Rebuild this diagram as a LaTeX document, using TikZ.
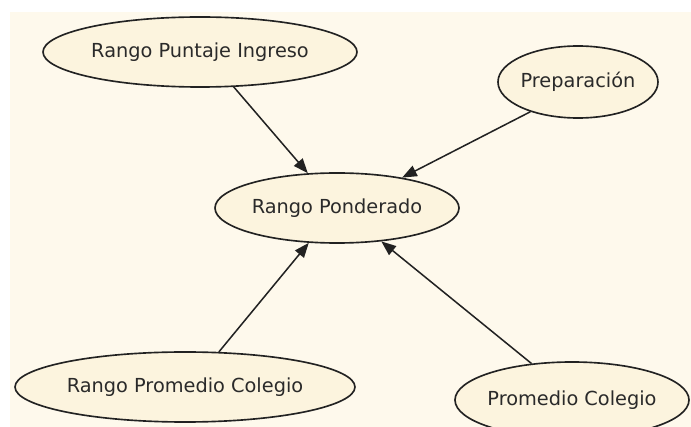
\documentclass[tikz,border=0pt]{standalone}
\usepackage{fontspec}
\setmainfont{DejaVu Sans}
\usepackage{xcolor}
\definecolor{bgcream}{HTML}{FEF9EC}
\definecolor{nodefill}{HTML}{FCF4DE}
\definecolor{edgedark}{HTML}{222222}
\definecolor{textdark}{HTML}{2A2A2A}
\usepackage{tikz}
\usetikzlibrary{positioning,arrows.meta,shapes.geometric}

\begin{document}
\begin{tikzpicture}[
  x=0.03cm, y=-0.03cm,
  factor/.style={
    ellipse, draw=edgedark, line width=1.4pt,
    fill=nodefill, text=textdark,
    font=\fontsize{16.5pt}{18pt}\selectfont,
    inner xsep=-1cm, inner ysep=0pt,
    minimum height=2.1cm,
  },
  trans/.style={-{Triangle[length=0.44cm,width=0.34cm]}, draw=edgedark, line width=1.3pt},
]

% Page frame: white margin strip, cream canvas
\useasboundingbox (0,0) rectangle (691,427);
\fill[white] (0,0) rectangle (691,427);
\fill[bgcream] (10,12) rectangle (691,427);

% Parent nodes around the centre
\node[factor, minimum width=9.42cm] (ingreso)  at (200,52)  {Rango Puntaje Ingreso};
\node[factor, minimum width=4.8cm, minimum height=2.16cm] (prep) at (578,82) {Preparación};
\node[factor, minimum width=10.2cm] (rcolegio) at (185,387) {Rango Promedio Colegio};
\node[factor, minimum width=7.02cm, minimum height=2.28cm] (colegio) at (572,400) {Promedio Colegio};

% Target node
\node[factor, minimum width=7.32cm] (ponderado) at (337,208) {Rango Ponderado};

% Influences, all pointing into the centre
\draw[trans] (ingreso.-46)  -- (ponderado.130);
\draw[trans] (prep.-148)    -- (ponderado.25);
\draw[trans] (rcolegio.46)  -- (ponderado.-129);
\draw[trans] (colegio.138)  -- (ponderado.-37);

\end{tikzpicture}
\end{document}
